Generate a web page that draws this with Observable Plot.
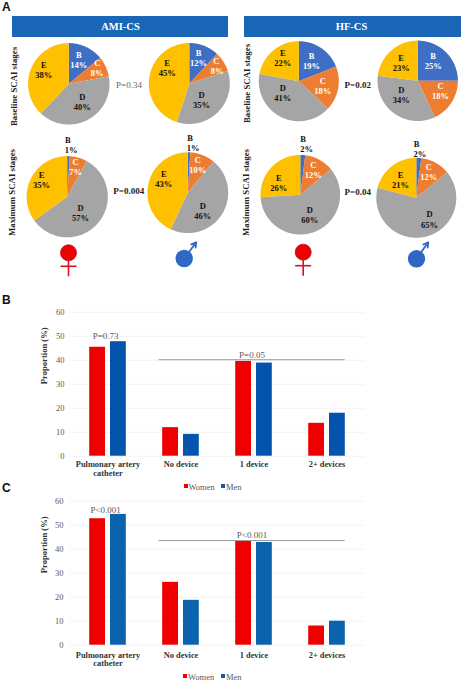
<!DOCTYPE html>
<html>
<head>
<meta charset="utf-8">
<script src="https://cdn.jsdelivr.net/npm/d3@7"></script>
<script src="https://cdn.jsdelivr.net/npm/@observablehq/plot@0.6"></script>
<style>
html,body{margin:0;padding:0;background:#fff;width:461px;height:680px;overflow:hidden}
#page{position:relative;width:461px;height:680px}
#page svg{position:absolute;left:0;background:transparent}
.legend{position:absolute;left:0;width:461px;height:12px;font:8.5px "Liberation Serif",serif;color:#595959}
.legend i{position:absolute;top:3px;width:4px;height:4px}
.legend span{position:absolute;top:0;line-height:12px}
.panel{position:absolute;left:2px;font:bold 12px "Liberation Sans",sans-serif;color:#111}
</style>
</head>
<body>
<div id="page"></div>
<script>
// ---- Data ----
const stages = ["B", "C", "D", "E"];
const amiBaselineWomen = [14, 8, 40, 38];
const amiBaselineMen = [12, 8, 35, 45];
const amiMaximumWomen = [1, 7, 57, 35];
const amiMaximumMen = [1, 10, 46, 43];
const hfBaselineWomen = [19, 18, 41, 22];
const hfBaselineMen = [25, 18, 34, 23];
const hfMaximumWomen = [2, 12, 60, 26];
const hfMaximumMen = [2, 12, 65, 21];
const pieSeries = [amiBaselineWomen, amiBaselineMen, amiMaximumWomen, amiMaximumMen,
                   hfBaselineWomen, hfBaselineMen, hfMaximumWomen, hfMaximumMen];

const devices = ["Pulmonary artery catheter", "No device", "1 device", "2+ devices"];
const panelBWomen = [45.4, 11.9, 39.5, 13.7];
const panelBMen = [47.7, 9.1, 38.8, 17.9];
const panelCWomen = [52.7, 26.2, 43.2, 8.0];
const panelCMen = [54.5, 18.7, 42.8, 10.0];

// ---- Layout of panel A (pixels of the panel, not data) ----
const pieCentres = [[68.3,83.3,40.7],[188.8,83,40.5],[66.7,196.2,40.6],[187.3,192.2,40.4],
                    [298.3,80.7,40],[417.2,80.3,40.2],[299.8,194.2,39.8],[415.8,197.3,40]];
// stage-letter and percent positions per pie, in order B, C, D, E
const labelSpots = [
  [[78.3,54.5,78.3,64.7],[96.7,62.7,96.7,72.7],[81.7,96.7,81.7,106.7],[43.3,64.5,43.3,75]],
  [[198,52.5,198,63],[215.7,61,216.7,71],[201,94.7,201,104.7],[166.7,63,166.7,72.7]],
  [[67.3,139.3,70.7,149.3],[75,161.7,75,171.7],[80,207.3,80,217.3],[41,175,41,185]],
  [[189.7,137.7,192.7,148],[197.3,160,197.3,170],[202.3,205.7,202.3,215.7],[163.3,173.3,163.3,183.3]],
  [[311,55.7,311,66],[322.3,81,322.3,90.7],[282.3,87.7,282.3,98],[282.3,52.3,282.3,62.3]],
  [[432.7,56,432.7,66],[440,86,440,96],[400.7,89.3,400.7,99.7],[400.7,58,400.7,68]],
  [[302.7,139,306,149],[312.7,165,312.7,175],[309.3,209.7,309.3,219.7],[278.3,177.7,278.3,188]],
  [[416,143.7,419.3,153.7],[428.3,166.7,428.3,176.7],[429,214,429,224.7],[400,175,400,185]]
];
const stageColors = ["#3f6fc4", "#ed7d31", "#a5a5a5", "#ffc000"];
const SERIF = "Liberation Serif";

const headers = [
  {x1: 12, x2: 228, label: "AMI-CS", cx: 120},
  {x1: 244, x2: 461, label: "HF-CS", cx: 351}
];
const rowTitles = [
  {x: 13.3, y: 86, label: "Baseline SCAI stages"},
  {x: 11.7, y: 192, label: "Maximum SCAI stages"},
  {x: 246.7, y: 83, label: "Baseline SCAI stages"},
  {x: 246, y: 192, label: "Maximum SCAI stages"}
];
const pLabels = [
  {x: 128.5, y: 84.5, label: "P=0.34", bold: false},
  {x: 128.3, y: 191, label: "P=0.004", bold: true},
  {x: 357.3, y: 84.7, label: "P=0.02", bold: true},
  {x: 357.3, y: 191.7, label: "P=0.04", bold: true}
];
const femaleSymbols = [[68, 252.3], [302.7, 251.7]];
const maleSymbols = [[183.7, 258, 195.7, 241.7], [416, 258.3, 427.7, 241.7]];

// ---- Slices: polygon vertices derived from the values ----
const slices = pieSeries.flatMap((vals, p) => {
  const [cx, cy, r] = pieCentres[p];
  const pts = [];
  let acc = 0;
  vals.forEach((v, s) => {
    const key = p + "-" + stages[s];
    const a0 = acc / 100 * 2 * Math.PI;
    const a1 = (acc + v) / 100 * 2 * Math.PI;
    acc += v;
    pts.push({key, stage: stages[s], x: cx, y: cy});
    const n = Math.max(2, Math.ceil(v * 3.6));
    d3.range(n + 1).forEach(i => {
      const a = a0 + (a1 - a0) * i / n;
      pts.push({key, stage: stages[s], x: cx + r * Math.sin(a), y: cy - r * Math.cos(a)});
    });
    pts.push({key, stage: stages[s], x: cx, y: cy});
  });
  return pts;
});

const sliceText = pieSeries.flatMap((vals, p) => vals.flatMap((v, s) => {
  const [lx, ly, px, py] = labelSpots[p][s];
  // small B slices carry their label outside the pie, in black
  const col = s < 2 && v > 2 ? "#ffffff" : "#111111";
  return [
    {x: lx, y: ly, t: stages[s], col},
    {x: px, y: py, t: v + "%", col}
  ];
}));

const page = document.getElementById("page");

const panelA = Plot.plot({
  width: 461, height: 290,
  margin: 0,
  x: {domain: [0, 461], range: [0, 461], axis: null},
  y: {domain: [0, 290], range: [0, 290], axis: null},
  color: {domain: stages, range: stageColors},
  style: {background: "transparent"},
  marks: [
    Plot.rectY(headers, {x1: "x1", x2: "x2", y1: () => 16, y2: () => 37, fill: "#1b66b6"}),
    Plot.text(headers, {x: "cx", y: () => 26, text: "label", fill: "#fff", fontFamily: SERIF, fontWeight: "bold", fontSize: 10.5}),
    Plot.line(slices, {x: "x", y: "y", z: "key", fill: "stage", stroke: null, curve: "linear"}),
    Plot.text(sliceText, {x: "x", y: "y", text: "t", fill: "col", fontFamily: SERIF, fontWeight: "bold", fontSize: 8.5}),
    Plot.text(rowTitles, {x: "x", y: "y", text: "label", rotate: -90, fill: "#222", fontFamily: SERIF, fontWeight: "bold", fontSize: 8.8}),
    Plot.text(pLabels.filter(d => !d.bold), {x: "x", y: "y", text: "label", fill: "#666", fontFamily: SERIF, fontSize: 9}),
    Plot.text(pLabels.filter(d => d.bold), {x: "x", y: "y", text: "label", fill: "#222", fontFamily: SERIF, fontWeight: "bold", fontSize: 9}),
    // Female symbols
    Plot.dot(femaleSymbols, {x: d => d[0], y: d => d[1], r: 8, fill: "#ee0000", stroke: "#b8102a", strokeWidth: 0.8}),
    Plot.link(femaleSymbols, {x1: d => d[0], x2: d => d[0], y1: d => d[1] + 7, y2: d => d[1] + 23.5, stroke: "#d8101e", strokeWidth: 1.6}),
    Plot.link(femaleSymbols, {x1: d => d[0] - 8, x2: d => d[0] + 8, y1: d => d[1] + 13.5, y2: d => d[1] + 13.5, stroke: "#d8101e", strokeWidth: 1.6}),
    // Male symbols
    Plot.arrow(maleSymbols, {x1: d => d[0], y1: d => d[1], x2: d => d[2], y2: d => d[3], stroke: "#2f68c4", strokeWidth: 1.8, headLength: 4.5}),
    Plot.dot(maleSymbols, {x: d => d[0], y: d => d[1], r: 8.7, fill: "#2f68c4"})
  ]
});
panelA.style.top = "0px";
page.appendChild(panelA);

// ---- Bar panels ----
const wrapLabel = d => d === "Pulmonary artery catheter" ? "Pulmonary artery\ncatheter" : d;

function barPanel({top, women, men, left, blue, ruleValue, p1, p1v, p1dx, p2, p2v, height, mt, pad}) {
  const table = devices.flatMap((d, i) => [
    {device: d, sex: "Women", value: women[i]},
    {device: d, sex: "Men", value: men[i]}
  ]);
  const barOptions = {x: "device", y: "value"};
  const svg = Plot.plot({
    width: 461, height,
    marginLeft: left, marginRight: 97, marginTop: mt, marginBottom: height - mt - 144,
    style: {background: "transparent", fontFamily: SERIF},
    x: {domain: devices, padding: 0, label: null},
    y: {domain: [0, 60], ticks: [0, 10, 20, 30, 40, 50, 60], label: null},
    marks: [
      Plot.gridY({ticks: [0, 10, 20, 30, 40, 50, 60], stroke: "#eeeeee", strokeOpacity: 1, strokeWidth: 0.8}),
      Plot.axisY({ticks: [0, 10, 20, 30, 40, 50, 60], tickSize: 0, tickPadding: 6, label: null, fontSize: 8.5, fill: "#595959", fontFamily: SERIF, marginLeft: left}),
      Plot.axisX({tickSize: 0, tickPadding: pad, label: null, tickFormat: wrapLabel, lineWidth: 100, fontSize: 8.4, fontWeight: "bold", fill: "#333", fontFamily: SERIF, textAnchor: "middle"}),
      Plot.barY(table.filter(d => d.sex === "Women"), {...barOptions, fill: "#ee0000", insetLeft: 18.2, insetRight: 39}),
      Plot.barY(table.filter(d => d.sex === "Men"), {...barOptions, fill: blue, insetLeft: 39, insetRight: 18.2}),
      Plot.ruleY([ruleValue], {x1: () => devices[1], x2: () => devices[3], insetLeft: 14.6, insetRight: 18.3, stroke: "#9a9a9a", strokeWidth: 1}),
      Plot.text([p1], {x: () => devices[0], y: () => p1v, dx: p1dx, text: d => d, fill: "#595959", fontSize: 9, fontFamily: SERIF}),
      Plot.text([p2], {x: () => devices[2], y: () => p2v, dx: -2, text: d => d, fill: "#595959", fontSize: 9, fontFamily: SERIF}),
      Plot.text(["Proportion (%)"], {
        frameAnchor: "left", dx: 43.5 - left, text: d => d, rotate: -90,
        fill: "#333", fontWeight: "bold", fontSize: 8.6, fontFamily: SERIF
      })
    ]
  });
  svg.style.top = top + "px";
  page.appendChild(svg);
}

barPanel({top: 295, height: 190, mt: 16.7, left: 70, pad: 5, women: panelBWomen, men: panelBMen, blue: "#0454ae",
  ruleValue: 40.2, p1: "P=0.73", p1v: 49.9, p1dx: -2.4, p2: "P=0.05", p2v: 42.2});
barPanel({top: 485, height: 190, mt: 15.7, left: 69, pad: 6.5, women: panelCWomen, men: panelCMen, blue: "#0b62ad",
  ruleValue: 43.6, p1: "P<0.001", p1v: 56.1, p1dx: -2.4, p2: "P<0.001", p2v: 45.7});

// ---- Legends and panel letters ----
[[481, 184, 188.5, 221, 226], [670.5, 182.5, 188, 220.5, 226]].forEach(([y, a, b, c, d]) => {
  const el = document.createElement("div");
  el.className = "legend";
  el.style.top = y + "px";
  el.innerHTML =
    `<i style="left:${a}px;background:#ee0000"></i><span style="left:${b}px">Women</span>` +
    `<i style="left:${c}px;background:#0b5cb0"></i><span style="left:${d}px">Men</span>`;
  page.appendChild(el);
});
[["A", 0], ["B", 293], ["C", 481]].forEach(([t, y]) => {
  const el = document.createElement("div");
  el.className = "panel";
  el.style.top = y + "px";
  el.textContent = t;
  page.appendChild(el);
});
</script>
</body>
</html>
